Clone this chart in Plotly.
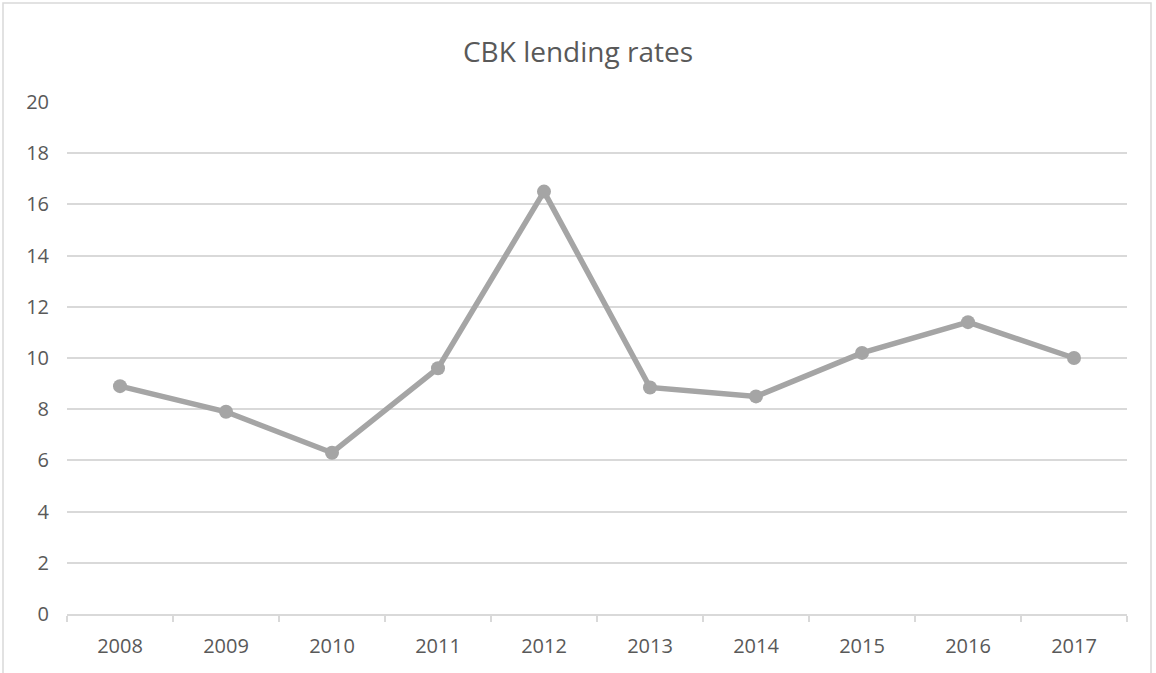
import plotly.graph_objects as go

years = ["2008", "2009", "2010", "2011", "2012", "2013", "2014", "2015", "2016", "2017"]
rates = [8.9, 7.9, 6.3, 9.6, 16.5, 8.85, 8.5, 10.2, 11.4, 10.0]
y_ticks = [0, 2, 4, 6, 8, 10, 12, 14, 16, 18, 20]

W, H = 1156, 673
L, R, T, B = 67, 29, 102, 59
pw, ph = W - L - R, H - T - B

fig = go.Figure()
fig.add_trace(go.Scatter(
    x=years, y=rates, mode="lines+markers",
    line=dict(color="#A5A5A5", width=5.5),
    marker=dict(color="#A5A5A5", size=14),
    showlegend=False, cliponaxis=False,
))

fig.update_layout(
    width=W, height=H,
    margin=dict(l=L, r=R, t=T, b=B),
    paper_bgcolor="white", plot_bgcolor="white",
    font=dict(family="Open Sans, Liberation Sans, sans-serif", color="#595959", size=20),
    title=dict(text="CBK lending rates", x=0.5, xanchor="center", y=1 - 52 / H, yanchor="middle",
               font=dict(size=28, color="#595959")),
    xaxis=dict(type="category", range=[-0.5, 9.5], showgrid=False,
               showline=True, linecolor="#D9D9D9", linewidth=1.5,
               ticks="outside", tickson="boundaries", ticklen=6, tickcolor="#D9D9D9", tickwidth=1.5,
               ticklabelstandoff=13, fixedrange=True),
    yaxis=dict(range=[0, 20], tickvals=y_ticks, showgrid=True, gridcolor="#D9D9D9", gridwidth=1.5,
               zeroline=False, showline=False, ticks="", ticklabelstandoff=17, fixedrange=True),
    shapes=[dict(type="rect", xref="paper", yref="paper",
                 x0=(3 - L) / pw, x1=(1151 - L) / pw,
                 y0=(T + ph - 690) / ph, y1=(T + ph - 3) / ph,
                 line=dict(color="#D9D9D9", width=1.5), fillcolor="rgba(0,0,0,0)", layer="below")],
)

fig.write_html("out.html", config={"displayModeBar": False},
               post_script="document.body.style.margin='0';document.body.style.overflow='hidden';")
